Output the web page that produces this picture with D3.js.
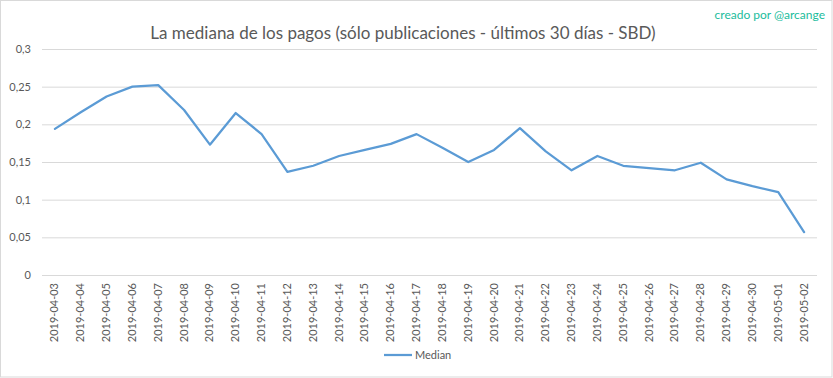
<!DOCTYPE html>
<html><head><meta charset="utf-8">
<script src="https://cdn.jsdelivr.net/npm/d3@7"></script>
<style>body{margin:0;background:#fff}svg{display:block}text{font-family:Lato,"Open Sans",sans-serif}</style>
</head><body><svg id="c" width="833" height="378"></svg>
<script>
const dates = ["2019-04-03","2019-04-04","2019-04-05","2019-04-06","2019-04-07","2019-04-08","2019-04-09","2019-04-10","2019-04-11","2019-04-12","2019-04-13","2019-04-14","2019-04-15","2019-04-16","2019-04-17","2019-04-18","2019-04-19","2019-04-20","2019-04-21","2019-04-22","2019-04-23","2019-04-24","2019-04-25","2019-04-26","2019-04-27","2019-04-28","2019-04-29","2019-04-30","2019-05-01","2019-05-02"];
const median = [0.194,0.216,0.237,0.250,0.252,0.219,0.173,0.215,0.187,0.137,0.145,0.158,0.166,0.174,0.187,0.169,0.150,0.166,0.195,0.164,0.139,0.158,0.145,0.142,0.139,0.149,0.127,0.118,0.110,0.057];
const yTicks = [0,0.05,0.1,0.15,0.2,0.25,0.3];
const yTickLabels = ["0","0,05","0,1","0,15","0,2","0,25","0,3"];
const title = "La mediana de los pagos (sólo publicaciones - últimos 30 días - SBD)";
const credit = "creado por @arcange";
const seriesName = "Median";

const svg = d3.select("#c");
const W = 833, H = 378;
const m = {l:42, r:16, t:49, b:103};
svg.append("rect").attr("x",0.5).attr("y",0.5).attr("width",W-1.5).attr("height",H-1.5)
  .attr("fill","#fff").attr("stroke","#d9d9d9");

const x = d3.scaleBand().domain(dates).range([m.l, W-m.r]);
const y = d3.scaleLinear().domain([0,0.3]).range([H-m.b, m.t]);

const gy = svg.append("g").attr("transform",`translate(${m.l},0)`)
  .call(d3.axisLeft(y).tickValues(yTicks).tickFormat((d,i)=>yTickLabels[i]).tickSize(-(W-m.l-m.r)).tickPadding(11));
gy.select(".domain").remove();
gy.selectAll("line").attr("stroke","#d9d9d9");
gy.selectAll("text").attr("fill","#595959").style("font-size","11px").style("font-family","Lato, sans-serif");

const gx = svg.append("g").attr("transform",`translate(0,${H-m.b})`)
  .call(d3.axisBottom(x).tickSize(0));
gx.select(".domain").remove();
gx.selectAll("text").attr("fill","#595959").style("font-size","11px").style("font-family","Lato, sans-serif")
  .attr("transform","rotate(-90)").attr("text-anchor","end").attr("dx","-8").attr("dy","0.32em").attr("y",0).attr("x",0);

const line = d3.line().x((d,i)=>x(dates[i])+x.bandwidth()/2).y(d=>y(d));
svg.append("path").datum(median).attr("d",line).attr("fill","none")
  .attr("stroke","#5b9bd5").attr("stroke-width",2.25).attr("stroke-linejoin","round").attr("stroke-linecap","round");

svg.append("text").attr("x",403).attr("y",39).attr("text-anchor","middle")
  .attr("fill","#595959").style("font-size","17px").text(title);
svg.append("text").attr("x",825).attr("y",19).attr("text-anchor","end")
  .attr("fill","#1abc9c").style("font-size","12px").text(credit);

svg.append("line").attr("x1",384).attr("x2",412).attr("y1",355).attr("y2",355)
  .attr("stroke","#5b9bd5").attr("stroke-width",2.25);
svg.append("text").attr("x",415).attr("y",359).attr("fill","#595959").style("font-size","11px").text(seriesName);
</script></body></html>
